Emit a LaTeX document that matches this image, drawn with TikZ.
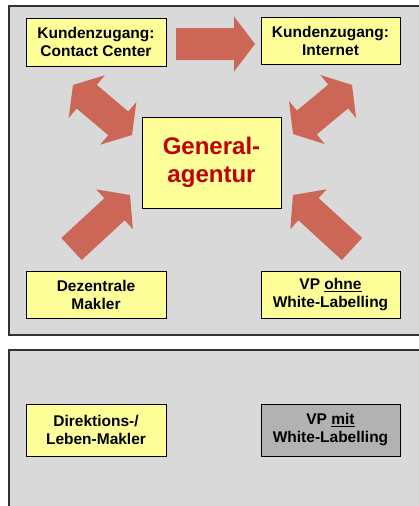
\documentclass[tikz,border=0pt]{standalone}
\usepackage{fontspec}
\setmainfont{Liberation Sans}
\usetikzlibrary{calc}
\definecolor{panelgray}{HTML}{D9D9D9}
\definecolor{boxyellow}{HTML}{FFFF99}
\definecolor{arrowred}{HTML}{CC6656}
\definecolor{textred}{HTML}{C00000}
\definecolor{vpgray}{HTML}{B2B2B2}
% single block arrow: tail, tip, head length, head half width, shaft half width
\newcommand\singleblockarrow[5]{%
  \coordinate (hA) at ($(#2)!#3!(#1)$);
  \fill[arrowfill] ($(#1)!#5!90:(#2)$) -- ($(hA)!#5!-90:(#1)$) -- ($(hA)!#4!-90:(#1)$) -- (#2)
    -- ($(hA)!#4!90:(#1)$) -- ($(hA)!#5!90:(#1)$) -- ($(#1)!#5!-90:(#2)$) -- cycle;
}
% double block arrow: end A, end B, head length, head half width, shaft half width
\newcommand\doubleblockarrow[5]{%
  \coordinate (hA) at ($(#1)!#3!(#2)$);
  \coordinate (hB) at ($(#2)!#3!(#1)$);
  \fill[arrowfill] (#1) -- ($(hA)!#4!90:(#2)$) -- ($(hA)!#5!90:(#2)$) -- ($(hB)!#5!-90:(#1)$)
    -- ($(hB)!#4!-90:(#1)$) -- (#2) -- ($(hB)!#4!90:(#1)$) -- ($(hB)!#5!90:(#1)$)
    -- ($(hA)!#5!-90:(#2)$) -- ($(hA)!#4!-90:(#2)$) -- cycle;
}
\begin{document}
\begin{tikzpicture}[x=1pt,y=-1pt,
  panel/.style={draw=black!80, line width=1.3pt, fill=panelgray},
  infobox/.style={draw=black, line width=0.9pt, fill=boxyellow, minimum width=140pt,
    minimum height=48pt, inner sep=0pt, align=center,
    font=\fontsize{15.5}{18}\selectfont\bfseries},
  genbox/.style={infobox, minimum width=139pt, minimum height=91pt, text=textred,
    font=\fontsize{24}{28}\selectfont\bfseries},
  arrowfill/.style={fill=arrowred}]
\useasboundingbox (0,0) rectangle (419,506);
\clip (0,0) rectangle (419,506);
\fill[white] (0,0) rectangle (419,506);
\draw[panel] (9,6) rectangle (440,335);
\draw[panel] (9,350) rectangle (440,530);

\node[infobox] (cc) at (96,42) {Kundenzugang:\\Contact Center};
\node[infobox, minimum width=139pt, minimum height=47pt] (inet) at (330.5,40.5) {Kundenzugang:\\Internet};
\node[genbox] (gen) at (211.5,162.5) {General-\\agentur};
\node[infobox, minimum height=47pt] (dez) at (96,294.5) {Dezentrale\\Makler};
\node[infobox, minimum width=139pt, minimum height=47pt] (vpo) at (330.5,294.5) {VP \underline{ohne}\\White-Labelling};
\node[infobox, minimum height=52pt] (dir) at (96,430) {Direktions-/\\Leben-Makler};
\node[infobox, minimum width=139pt, minimum height=52pt, fill=vpgray] (vpm) at (330.5,430) {VP \underline{mit}\\White-Labelling};

% arrow end points
\coordinate (ccR) at (176,44);
\coordinate (inetL) at (255,44);
\coordinate (ulA) at (73,85);
\coordinate (ulB) at (132,135);
\coordinate (urA) at (352,85);
\coordinate (urB) at (293,134);
\coordinate (dezT) at (71.5,249);
\coordinate (genLL) at (130,195);
\coordinate (vpoT) at (352,249);
\coordinate (genLR) at (293,195);

\singleblockarrow{ccR}{inetL}{21pt}{27.5pt}{16pt}
\doubleblockarrow{ulA}{ulB}{18pt}{28pt}{15.5pt}
\doubleblockarrow{urA}{urB}{18pt}{28pt}{15.5pt}
\singleblockarrow{dezT}{genLL}{21pt}{27pt}{15pt}
\singleblockarrow{vpoT}{genLR}{21pt}{27pt}{15pt}
\end{tikzpicture}
\end{document}
